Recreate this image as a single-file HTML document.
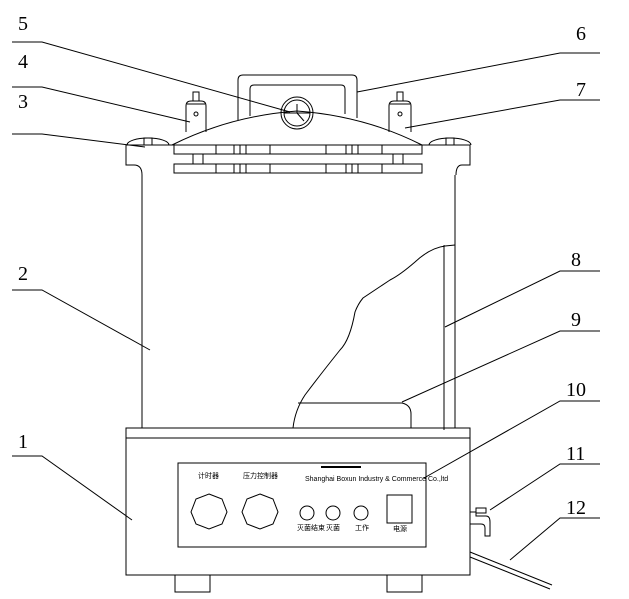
<!DOCTYPE html>
<html><head><meta charset="utf-8"><style>
html,body{margin:0;padding:0;background:#fff;}
svg{display:block}
text{font-family:"Liberation Serif",serif;font-size:20px;fill:#000}
.s{font-family:"Liberation Sans","Noto Sans CJK SC",sans-serif;font-size:7px}
</style></head><body>
<svg width="629" height="599" viewBox="0 0 629 599" fill="none" stroke="#000" stroke-width="1">
<g stroke="none">
<text x="18" y="30">5</text><text x="18" y="68">4</text><text x="18" y="108">3</text>
<text x="18" y="280">2</text><text x="18" y="448">1</text>
<text x="576" y="40">6</text><text x="576" y="96">7</text>
<text x="571" y="266">8</text><text x="571" y="326">9</text><text x="566" y="396">10</text>
<text x="566" y="460">11</text><text x="566" y="514">12</text>
</g>
<path d="M12 42H42L290 112"/>
<path d="M12 87H42L190 122"/>
<path d="M12 134H42L145 147"/>
<path d="M12 290H42L150 350"/>
<path d="M12 456H42L132 520"/>
<path d="M600 53H560L357 92"/>
<path d="M600 100H560L405 128"/>
<path d="M600 271H560L445 327"/>
<path d="M600 331H560L402 402"/>
<path d="M600 401H560L424 478"/>
<path d="M600 464H560L490 510"/>
<path d="M600 518H560L510 560"/>
<path d="M142 175V428M455 175V428"/>
<path d="M126 145H470V165H462Q456 165 456 175M126 145V165H134Q142 165 142 175"/>
<path d="M127 145A21 7 0 0 1 169 145"/><rect x="144" y="138" width="8" height="7"/>
<path d="M429 145A21 7 0 0 1 471 145"/><rect x="446" y="138" width="8" height="7"/>
<rect x="174" y="145" width="248" height="9"/>
<rect x="174" y="164" width="248" height="9"/>
<path d="M216 145v9M234 145v9M240 145v9M246 145v9M270 145v9M326 145v9M346 145v9M352 145v9M358 145v9M382 145v9M216 164v9M234 164v9M240 164v9M246 164v9M270 164v9M326 164v9M346 164v9M352 164v9M358 164v9M382 164v9"/>
<rect x="193" y="154" width="10" height="10"/><rect x="393" y="154" width="10" height="10"/>
<path d="M172 145Q230 116 297 111Q365 116 422 145"/>
<path d="M238 120V80Q238 75 243 75H352Q357 75 357 80V118"/>
<path d="M250 116V89Q250 85 254 85H341Q345 85 345 89V114"/>
<circle cx="297" cy="113" r="16"/><circle cx="297" cy="113" r="13"/>
<path d="M284 113H310M297 113V104M297 113L304 121"/>
<rect x="193" y="92" width="6" height="9"/><path d="M186 132V106Q186 101 191 101H201Q206 101 206 106V132"/><path d="M187 104H205"/>
<circle cx="196" cy="114" r="2"/>
<rect x="397" y="92" width="6" height="9"/><path d="M389 132V106Q389 101 394 101H406Q411 101 411 106V132"/><path d="M390 104H410"/>
<circle cx="400" cy="114" r="2"/>
<path d="M444 245V430M455 245L445 246Q430 248 415 262Q400 275 390 280Q375 290 363 298Q358 304 355 312Q350 340 340 350Q320 375 305 395Q295 410 293 428"/>
<path d="M298 403H402Q411 405 411 414V428"/>
<rect x="126" y="428" width="344" height="147"/>
<path d="M126 438H470"/>
<rect x="175" y="575" width="35" height="17"/><rect x="387" y="575" width="35" height="17"/>
<rect x="178" y="463" width="248" height="84"/>
<polygon points="209,494 222,499 227,512 222,524 209,529 196,524 191,512 196,499"/>
<polygon points="260,494 273,499 278,512 273,524 260,529 247,524 242,512 247,499"/>
<circle cx="307" cy="513" r="7"/><circle cx="333" cy="513" r="7"/><circle cx="361" cy="513" r="7"/>
<rect x="387" y="495" width="25" height="28"/>
<path d="M321 467H361" stroke-width="2"/>
<path d="M470 512H476V516H486Q490 516 490 522V536H485V528Q485 524 481 524H470"/>
<rect x="476" y="508" width="10" height="5"/>
<path d="M470 552L552 585M470 557L550 589"/>
<g stroke="none">
<text class="s" x="198" y="478">计时器</text><text class="s" x="243" y="478">压力控制器</text>
<text class="s" x="305" y="481" font-size="5">Shanghai Boxun Industry &amp; Commerce Co.,ltd</text>
<text class="s" x="297" y="530" font-size="5">灭菌结束</text><text class="s" x="326" y="530" font-size="5">灭菌</text><text class="s" x="355" y="530" font-size="5">工作</text>
<text class="s" x="393" y="531" font-size="5">电源</text>
</g>
</svg>
</body></html>
